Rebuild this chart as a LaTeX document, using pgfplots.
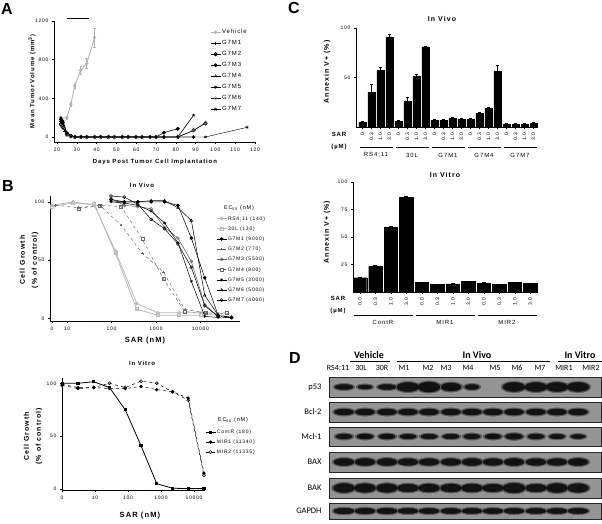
\documentclass[border=0pt]{standalone}
\usepackage{pgfplots}
\pgfplotsset{compat=1.18}
\usepackage{fontspec}
\setmainfont{Liberation Sans}[LetterSpace=15]
\newfontfamily\blotfont{Carlito}
\newfontfamily\plainsans{Liberation Sans}
\usetikzlibrary{plotmarks}
\newcommand{\fs}[1]{\fontsize{#1}{#1}\selectfont}

\pgfplotsset{
 gp/.style={scale only axis, axis lines*=left, anchor=south west,
   tick align=outside, major tick length=2pt, minor tick length=1.2pt,
   every tick/.style={black, line width=0.4pt},
   axis line style={line width=0.5pt},
   /pgf/number format/assume math mode=true, /pgf/number format/1000 sep={},
   tick label style={font=\fs{5}}, label style={font=\bfseries\fs{6}},
   clip=false, legend cell align=left},
 gleg/.style={legend style={draw=none, fill=none, inner sep=0pt,
   nodes={inner sep=0pt, inner xsep=1pt, text height=4.5pt, text depth=1.5pt}, row sep=#1},
   legend image code/.code={\draw[mark repeat=2,mark phase=2] plot coordinates {(0pt,0pt)(5pt,0pt)(10pt,0pt)};}},
 band/.style={scatter, only marks, mark=*, mark size=1pt,
   visualization depends on={\thisrow{rx}\as\rx},
   visualization depends on={\thisrow{ry}\as\ry},
   scatter/@pre marker code/.code={\scope[xscale=\rx+#1,yscale=\ry+#1*0.6]},
   scatter/@post marker code/.code={\endscope}},
}

\begin{document}
\begin{tikzpicture}
\path[use as bounding box] (0pt,0pt) rectangle (602pt,-523pt);
\node[font=\plainsans\bfseries\fs{16}] at (7pt,-9pt) {A};
\node[font=\plainsans\bfseries\fs{16}] at (8pt,-186pt) {B};
\node[font=\plainsans\bfseries\fs{16}] at (294pt,-8pt) {C};
\node[font=\plainsans\bfseries\fs{16}] at (295pt,-358pt) {D};

% ---------------- A ----------------
\begin{axis}[gp, at={(54pt,-142pt)}, width=201pt, height=121pt,
 xmin=18.5, xmax=120, ymin=-52, ymax=1200,
 xtick={20,30,...,120}, ytick={0,400,800,1200},
 xlabel={Days Post Tumor Cell Implantation},
 ylabel={Mean Tumor Volume (mm\textsuperscript{3})},
 xlabel style={at={(axis description cs:0.502,-0.165)}, anchor=center},
 ylabel style={at={(axis description cs:-0.109,0.5)}, anchor=center},
 gleg=5pt, legend style={at={(0.776,0.934)}, anchor=north west, font=\fs{6}},
 mark size=1.6pt]
\addplot[gray!60, line width=0.9pt, mark=*, mark size=1.2pt,
  error bars/.cd, y dir=both, y explicit, error bar style={gray!60, line width=0.5pt}]
  coordinates {(22,190)+-(0,20) (25,200)+-(0,20) (27,340)+-(0,25) (29,530)+-(0,30)
  (32,690)+-(0,40) (35,760)+-(0,50) (39,1030)+-(0,100)};
\addlegendentry{Vehicle}
\addplot[black, line width=0.4pt, mark=+] coordinates {(22,160)(23,120)(24,60)(25,30)(26,15)(27,5)(29,0)(32,0)(35,0)(39,0)(42,0)(46,0)(49,0)(53,0)(56,0)(60,0)(63,0)(67,0)(70,0)(74,0)(81,0)(89,0)};
\addlegendentry{G7M1}
\addplot[black, line width=0.4pt, mark=o, mark options={line width=0.9pt}] coordinates {(22,130)(23,100)(25,30)(27,10)(29,0)(32,0)(35,0)(39,0)(42,0)(46,0)(49,0)(53,0)(56,0)(60,0)(63,0)(67,0)(70,0)(74,0)(81,0)(89,70)(95,140)};
\addlegendentry{G7M2}
\addplot[black, line width=0.6pt, mark=*] coordinates {(22,180)(23,150)(25,40)(27,10)(29,0)(32,0)(35,0)(39,0)(42,0)(46,0)(49,0)(53,0)(56,0)(60,0)(63,0)(67,0)(70,0)(74,45)(81,85)};
\addlegendentry{G7M3}
\addplot[black, line width=0.4pt, mark=triangle] coordinates {(22,140)(23,100)(25,20)(27,5)(29,0)(32,0)(35,0)(39,0)(42,0)(46,0)(49,0)(53,0)(56,0)(60,0)(63,0)(67,0)(70,0)(74,0)(81,0)(89,0)};
\addlegendentry{G7M4}
\addplot[black, line width=0.4pt, mark=asterisk] coordinates {(22,150)(23,110)(25,25)(27,5)(29,0)(32,0)(35,0)(39,0)(42,0)(46,0)(49,0)(53,0)(56,0)(60,0)(63,0)(67,0)(70,0)(74,0)(81,0)(89,0)(95,0)(116,100)};
\addlegendentry{G7M5}
\addplot[black, line width=0.4pt, mark=o, mark options={gray}] coordinates {(22,120)(23,90)(25,20)(27,5)(29,0)(32,0)(35,0)(39,0)(42,0)(46,0)(49,0)(53,0)(56,0)(60,0)(63,0)(67,0)(70,0)(74,0)(81,0)(89,65)(95,150)};
\addlegendentry{G7M6}
\addplot[black, line width=0.6pt, mark=star] coordinates {(22,200)(23,170)(25,40)(27,8)(29,0)(32,0)(35,0)(39,0)(42,0)(46,0)(49,0)(53,0)(56,0)(60,0)(63,0)(67,0)(70,0)(74,0)(81,0)(89,225)};
\addlegendentry{G7M7}
\addplot[only marks, mark=+, mark size=0.9pt, mark options={line width=0.3pt}, forget plot] coordinates {(25.5,1225)(26.3,1225)(27.1,1225)(27.9,1225)(28.7,1225)(29.5,1225)(30.3,1225)(31.1,1225)(31.9,1225)(32.7,1225)(33.5,1225)(34.3,1225)(35.1,1225)(35.9,1225)};
\end{axis}

% ---------------- B top ----------------
\node[font=\bfseries\fs{6}] at (142pt,-185pt) {In Vivo};
\node[font=\fs{5.5}] at (239pt,-208pt) {EC\textsubscript{50} (nM)};
\begin{axis}[gp, xmode=log, at={(50pt,-321pt)}, width=190pt, height=125pt,
 xmin=4.15, xmax=77600, ymin=-2, ymax=105,
 xtick={4.6,10,100,1000,10000}, xticklabels={0,10,100,1000,10000},
 minor xtick={5,6,7,8,9,20,30,40,50,60,70,80,90,200,300,400,500,600,700,800,900,2000,3000,4000,5000,6000,7000,8000,9000,20000,30000,40000,50000,60000,70000},
 ytick={0,50,100},
 xlabel={SAR (nM)}, ylabel={Cell Growth\\(\% of control)},
 xlabel style={at={(axis description cs:0.5,-0.16)}, anchor=center, font=\bfseries\fs{7.5}},
 ylabel style={at={(axis description cs:-0.11,0.488)}, anchor=center, align=center, font=\bfseries\fontsize{7}{12}\selectfont},
 gleg=4.2pt, legend style={at={(0.874,0.845)}, anchor=north west, font=\fs{5}},
 mark size=1.5pt]
\addplot[gray!55, line width=0.8pt, mark=o] coordinates {(4.57,97)(13.7,100)(41.2,97)(123,58)(370,13)(1111,5)(3333,5)(10000,5)(30000,2)};
\addlegendentry{RS4;11 (140)}
\addplot[gray!55, line width=0.8pt, mark=square] coordinates {(4.57,96)(13.7,99)(41.2,98)(123,56)(370,8)(1111,3)(3333,3)(10000,3)};
\addlegendentry{30L (130)}
\addplot[black, line width=0.5pt, mark=*] coordinates {(97.7,102)(195,100)(391,100)(781,100)(1563,100)(3125,97)(6250,69)(12500,35)(25000,3)(50000,1)};
\addlegendentry{G7M1 (9000)}
\addplot[gray!80!black, line width=0.5pt, dashed, mark=+, mark options={solid}, mark size=1.2pt] coordinates {(5.5,97)(18,95)(55,97)(165,80)(494,56)(1481,40)(4444,8)(13333,5)(40000,4)};
\addlegendentry{G7M2 (770)}
\addplot[gray!70!black, line width=0.5pt, mark=o] coordinates {(97.7,103)(195,97)(391,96)(781,94)(1563,78)(3125,69)(6250,49)(12500,12)(25000,2)(50000,1)};
\addlegendentry{G7M3 (5500)}
\addplot[gray!80!black, line width=0.5pt, dashed, mark=square, mark options={solid}] coordinates {(18,94)(55,97)(165,96)(494,68)(1481,34)(4444,6)(13333,5)(40000,5)};
\addlegendentry{G7M4 (800)}
\addplot[black, line width=0.5pt, mark=asterisk] coordinates {(97.7,100)(195,99)(391,97)(781,92)(1563,82)(3125,65)(6250,32)(12500,2)(25000,1)(50000,1)};
\addlegendentry{G7M5 (3000)}
\addplot[black, line width=0.5pt, mark=triangle] coordinates {(97.7,101)(195,100)(391,100)(781,101)(1563,101)(3125,95)(6250,84)(12500,20)(25000,3)(50000,1)};
\addlegendentry{G7M6 (5000)}
\addplot[black, line width=0.5pt, mark=o] coordinates {(97.7,105)(195,104)(391,98)(781,85)(1563,77)(3125,64)(6250,44)(12500,11)(25000,2)(50000,1)};
\addlegendentry{G7M7 (4000)}
\end{axis}

% ---------------- B bottom ----------------
\node[font=\bfseries\fs{6}] at (142pt,-363pt) {In Vitro};
\node[font=\fs{5.5}] at (233pt,-420pt) {EC\textsubscript{50} (nM)};
\begin{axis}[gp, xmode=log, at={(62pt,-490pt)}, width=143pt, height=112pt,
 xmin=1, xmax=21500, ymin=-1, ymax=105,
 xtick={1,10,100,1000,10000}, xticklabels={0,10,100,1000,10000},
 minor xtick={2,3,4,5,6,7,8,9,20,30,40,50,60,70,80,90,200,300,400,500,600,700,800,900,2000,3000,4000,5000,6000,7000,8000,9000,20000},
 ytick={0,50,100},
 xlabel={SAR (nM)}, ylabel={Cell Growth\\(\% of control)},
 xlabel style={at={(axis description cs:0.545,-0.232)}, anchor=center, font=\bfseries\fs{7.5}},
 ylabel style={at={(axis description cs:-0.203,0.48)}, anchor=center, align=center, font=\bfseries\fontsize{7}{12}\selectfont},
 gleg=4pt, legend style={at={(1.0,0.545)}, anchor=north west, font=\fs{5}},
 mark size=1.5pt]
\addplot[black, line width=0.8pt, mark=square*, mark size=1.1pt] coordinates {(1.016,100)(3.05,100)(9.14,101.5)(27.4,96)(82.3,75)(247,41)(741,5)(2222,0.7)(6667,0.3)(20000,0.3)};
\addlegendentry{ContR (180)}
\addplot[black, line width=0.5pt, dashed, mark=oplus, mark options={solid}] coordinates {(1.016,98)(3.05,95)(9.14,96)(27.4,95)(82.3,95)(247,97)(741,94)(2222,92)(6667,86)(20000,15)};
\addlegendentry{MIR1 (11340)}
\addplot[black, line width=0.5pt, dashed, mark=o, mark options={solid}] coordinates {(1.016,99)(3.05,96)(9.14,96)(27.4,100)(82.3,96)(247,102)(741,100)(2222,92)(6667,84)(20000,13)};
\addlegendentry{MIR2 (11335)}
\end{axis}

% ---------------- C top ----------------
\node[font=\bfseries\fs{7}] at (442pt,-19pt) {In Vivo};
\begin{axis}[gp, at={(356pt,-127pt)}, width=182pt, height=99pt,
 xmin=-0.72, xmax=19.5, ymin=0, ymax=100,
 xtick={0,...,19},
 xticklabels={0,0.3,1.0,3.0,0,0.3,1.0,3.0,0,0.3,1.0,3.0,0,0.3,1.0,3.0,0,0.3,1.0,3.0},
 xticklabel style={rotate=90, anchor=east, font=\fs{5}},
 ytick={50,100}, ylabel={Annexin V+ (\%)},
 ylabel style={at={(axis description cs:-0.159,0.556)}, anchor=center, font=\bfseries\fs{7}}]
\addplot[ybar, bar width=7pt, fill=black, draw=black,
  error bars/.cd, y dir=plus, y explicit, error bar style={black, line width=0.5pt},
  error mark options={rotate=90, mark size=1.5pt, black}]
 coordinates {(0,5)+-(0,0.6)(1,35)+-(0,8)(2,57)+-(0,3.5)(3,91)+-(0,2.5)
 (4,6)+-(0,0.6)(5,26)+-(0,4.5)(6,51)+-(0,2.5)(7,81)+-(0,0.6)
 (8,7)+-(0,0.5)(9,7)+-(0,0.5)(10,9)+-(0,0.5)(11,8)+-(0,0.5)
 (12,8)+-(0,0.5)(13,14)+-(0,0.8)(14,19)+-(0,0.8)(15,56)+-(0,6)
 (16,3)+-(0,0.4)(17,3)+-(0,0.4)(18,3)+-(0,0.4)(19,4)+-(0,0.5)};
\end{axis}
\node[font=\bfseries\fs{6}] at (339pt,-134pt) {SAR};
\node[font=\bfseries\fs{6}] at (339pt,-147pt) {(µM)};
\foreach \g/\lab in {0/RS4;11,1/30L,2/G7M1,3/G7M4,4/G7M7}{
  \draw[line width=0.4pt] ({359.5pt+36pt*\g},-147pt) -- ({392.5pt+36pt*\g},-147pt);
  \node[font=\fs{6}] at ({376pt+36pt*\g},-155pt) {\lab};
}

% ---------------- C bottom ----------------
\node[font=\bfseries\fs{7}] at (445pt,-175pt) {In Vitro};
\begin{axis}[gp, at={(353pt,-292pt)}, width=185pt, height=110pt,
 xmin=-0.45, xmax=11.5, ymin=0, ymax=100,
 xtick={0,...,11},
 xticklabels={0.0,0.3,1.0,3.0,0.0,0.3,1.0,3.0,0.0,0.3,1.0,3.0},
 xticklabel style={rotate=90, anchor=east, font=\fs{5}},
 ytick={25,50,75,100}, ylabel={Annexin V+ (\%)},
 ylabel style={at={(axis description cs:-0.14,0.545)}, anchor=center, font=\bfseries\fs{7}}]
\addplot[ybar, bar width=13.5pt, fill=black, draw=black,
  error bars/.cd, y dir=plus, y explicit, error bar style={black, line width=0.5pt},
  error mark options={rotate=90, mark size=2pt, black}]
 coordinates {(0,13)+-(0,0.5)(1,23.5)+-(0,0.6)(2,58.5)+-(0,1.2)(3,86)+-(0,0.8)
 (4,8.5)+-(0,0.5)(5,7)+-(0,0.4)(6,7.5)+-(0,0.4)(7,9.5)+-(0,0.5)
 (8,8)+-(0,0.5)(9,7)+-(0,0.4)(10,8.5)+-(0,0.5)(11,8)+-(0,0.4)};
\end{axis}
\node[font=\bfseries\fs{6}] at (338pt,-298pt) {SAR};
\node[font=\bfseries\fs{6}] at (338pt,-311pt) {(µM)};
\foreach \g/\lab in {0/ContR,1/MIR1,2/MIR2}{
  \draw[line width=0.4pt] ({354pt+62pt*\g},-315pt) -- ({412.5pt+62pt*\g},-315pt);
  \node[font=\fs{6}] at ({383pt+62pt*\g},-322pt) {\lab};
}

% ---------------- D ----------------
\begin{axis}[at={(451pt,-431.5pt)}, anchor=center, scale only axis, width=302pt, height=183pt,
 xmin=300, xmax=602, ymin=340, ymax=523, y dir=reverse, hide axis, clip=false]
\addplot[fill=black!42, draw=black!85, line width=0.8pt] coordinates {(329,377)(601,377)(601,397)(329,397)} --cycle;
\addplot[fill=black!42, draw=black!85, line width=0.8pt] coordinates {(329,402)(601,402)(601,422)(329,422)} --cycle;
\addplot[fill=black!42, draw=black!85, line width=0.8pt] coordinates {(329,427)(601,427)(601,446)(329,446)} --cycle;
\addplot[fill=black!42, draw=black!85, line width=0.8pt] coordinates {(329,452)(601,452)(601,472)(329,472)} --cycle;
\addplot[fill=black!42, draw=black!85, line width=0.8pt] coordinates {(329,478)(601,478)(601,498)(329,498)} --cycle;
\addplot[fill=black!42, draw=black!85, line width=0.8pt] coordinates {(329,503)(601,503)(601,519)(329,519)} --cycle;
\pgfplotstableread{
x y rx ry
344 387 9 2.5
365 387 7 2
387 387 9 2.5
408 387 11 4.5
429 387 11 5
451 387 10 4
472 387 7 2.5
514 387 11 4.5
536 387 11 4.5
557 387 11 4.5
578 387 11 4.5
344 412 9.5 3
365 412 9.5 3
387 412 9.5 3
408 412 9.5 3
429 412 9.5 3
451 412 9.5 3
472 412 9.5 3
493 412 9.5 3
514 412 9.5 3
536 412 9.5 3
557 412 9.5 3
578 412 9.5 3
344 436.5 8 2.5
365 436.5 8 2.5
387 436.5 8 2.5
408 436.5 8 2.3
429 436.5 8 2.3
451 436.5 8 2.3
472 436.5 8 2.5
493 436.5 8 2.5
514 436.5 8.5 2.8
536 436.5 8 2.5
557 436.5 7.5 2.3
578 436.5 7 2
344 462 10 3.5
365 462 10 3.5
387 462 10 3.5
408 462 10 3.3
429 462 10 3.3
451 462 10 3.3
472 462 10 3.5
493 462 10 3.3
514 462 10 3.5
536 462 10 3.3
557 462 10 3.3
578 462 10 3.5
344 488 10.5 4.5
365 488 10.5 4.3
387 488 10.5 4.3
408 488 10.5 3.8
429 488 10.5 4
451 488 10.5 4
472 488 10.5 4
493 488 10.5 3.8
514 488 11 4.8
536 488 10.5 3.8
557 488 10.5 4.5
578 488 10.5 4.3
344 511 10 2.8
365 511 10 2.8
387 511 10 2.8
408 511 10 2.6
429 511 10 2.6
451 511 10 2.6
472 511 10 2.6
493 511 10 2.6
514 511 10 2.6
536 511 10 2.6
557 511 10 2.6
578 511 10 2.6
}\bands
\addplot[band=2, mark options={fill=black!65, draw=black!65}] table {\bands};
\addplot[band=0, mark options={fill=black!93, draw=black!93}] table {\bands};
\end{axis}
\begin{scope}[font=\blotfont\fs{8}]
\node[font=\blotfont\bfseries\fs{10}] at (369pt,-355pt) {Vehicle};
\node[font=\blotfont\bfseries\fs{10}] at (477pt,-355pt) {In Vivo};
\node[font=\blotfont\bfseries\fs{10}] at (580pt,-355pt) {In Vitro};
\draw[line width=0.5pt] (350pt,-361pt) -- (390pt,-361pt);
\draw[line width=0.5pt] (397pt,-361pt) -- (550pt,-361pt);
\draw[line width=0.5pt] (558pt,-361pt) -- (602pt,-361pt);
\foreach \xx/\lab in {338/RS4;11,361/30L,382/30R,404/M1,428/M2,446/M3,468/M4,495/M5,517/M6,540/M7,564/MIR1,591/MIR2}{
  \node at (\xx pt,-368pt) {\lab};
}
\foreach \yy/\lab in {387/p53,412/Bcl-2,436.5/Mcl-1,462/BAX,488/BAK,511/GAPDH}{
  \node[anchor=east, font=\blotfont\fs{8.5}] at (325pt,-\yy pt) {\lab};
}
\end{scope}
\end{tikzpicture}
\end{document}
